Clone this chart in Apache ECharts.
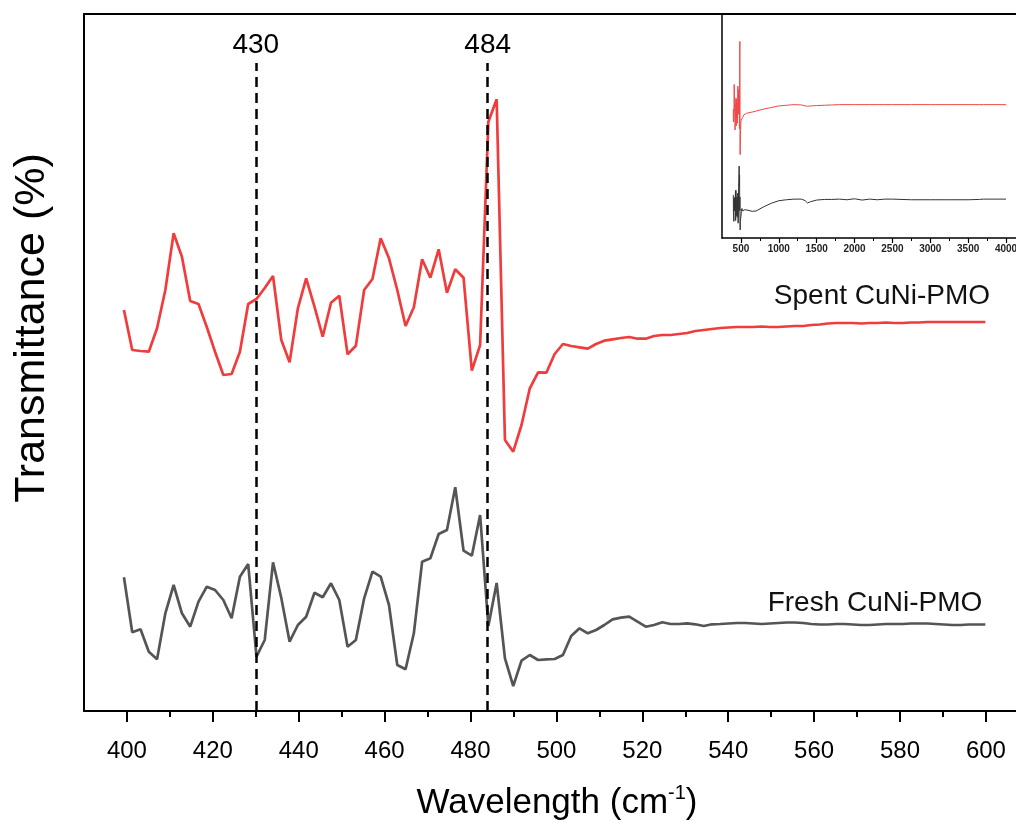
<!DOCTYPE html>
<html><head><meta charset="utf-8">
<script src="https://cdn.jsdelivr.net/npm/echarts@6/dist/echarts.min.js"></script>
<style>html,body{margin:0;padding:0;background:#fff}#c{width:1016px;height:826px}</style>
</head><body><div id="c"></div>
<script>
// Main spectrum wavenumbers (cm-1)
const wavenumbers = [399.30,401.23,403.16,405.09,407.01,408.94,410.87,412.80,414.73,416.66,
418.59,420.51,422.44,424.37,426.30,428.23,430.16,432.08,434.01,435.94,
437.87,439.80,441.73,443.66,445.58,447.51,449.44,451.37,453.30,455.23,
457.16,459.08,461.01,462.94,464.87,466.80,468.73,470.65,472.58,474.51,
476.44,478.37,480.30,482.23,484.15,486.08,488.01,489.94,491.87,493.80,
495.73,497.65,499.58,501.51,503.44,505.37,507.30,509.22,511.15,513.08,
515.01,516.94,518.87,520.80,522.72,524.65,526.58,528.51,530.44,532.37,
534.30,536.22,538.15,540.08,542.01,543.94,545.87,547.79,549.72,551.65,
553.58,555.51,557.44,559.37,561.29,563.22,565.15,567.08,569.01,570.94,
572.87,574.79,576.72,578.65,580.58,582.51,584.44,586.36,588.29,590.22,
592.15,594.08,596.01,597.94,599.86];
// Spent CuNi-PMO (offset transmittance, a.u.)
const spent = [401,361,360,359.3,382.7,421,477.7,454.3,410,407,
384,359.3,336,337,359.3,407,412,423,435,371,
348.7,402.7,432.7,404.3,374.3,408.3,415.3,356.7,365.3,421,
432,472.7,452.7,421,385,403.7,451.7,433.3,461.7,418.3,
441.7,433.3,340.3,366,589.3,611.7,271,259.3,286,322.7,
338.7,338.3,357,367,365,363.7,362.3,367,370.3,371.7,
373,374,372.3,372.3,375,376,376,377,378,380,
381,382,383,383.5,384,384,384,384.5,384,384,
384.5,385,385,386,386.5,387.5,388,388,388,387.5,
388,388,388.5,388,388,388.5,388.5,389,389,389,
389,389,389,389,389];
// Fresh CuNi-PMO (offset transmittance, a.u.)
const fresh = [133.7,78.7,81.7,59.3,51.7,97.7,126,97.7,84.3,109.3,
124.3,121,111,92.7,134.3,147,54.3,71,148.7,113,
69.3,86,94.3,118.3,113.7,127.7,111,64.3,71,112.7,
139.3,134.3,106,46,41.7,77.7,149.3,152.7,177,181,
223.7,160.3,155.3,196,85,128,52.7,25,50.3,56,
51,51.7,52,56,75,82.7,77.7,81,86,91.7,
93.3,94.3,89.3,84.3,86,88.7,87,87,87.7,86.7,
85,86.7,87,87.5,88,88,87.5,87,87.5,88,
88.5,88.5,88,87,86.5,86.5,87,87,86.5,86,
86,86.5,87,87,87,87.5,87.5,87.5,87,86.5,
86,86,86.5,86.5,86.5];
// Inset: full-range continuation beyond 600 cm-1
const insetWavenumbers = [650,700,800,900,1000,1100,1200,1300,1350,1380,1420,1500,1600,1700,1800,1900,2000,2100,2200,2300,2400,2500,2750,3000,3250,3500,3650,3700,4000];
const insetSpent = [392,395,401,406,411,413,415,414,411,410,411,412,413,414,415,415,415,415,415,415,415,415,415,415,415,415,415,415,415];
const insetFresh = [83,84,97,108,116,119,121,121,116,109,113,118,120,120,121,119,122,118,121,119,121,121,119,119,119,119,120,121,121];
// Axis ticks
const xTicks = [400,420,440,460,480,500,520,540,560,580,600];
const xMinorTicks = [410,430,450,470,490,510,530,550,570,590];
const insetTicks = [500,1000,1500,2000,2500,3000,3500,4000];
const insetMinorTicks = [750,1250,1750,2250,2750,3250,3750];
const peaks = [430,484];
const seriesNames = ['Spent CuNi-PMO','Fresh CuNi-PMO'];

const FONT = 'Liberation Sans, Arial, sans-serif';
const pair = (xs, ys) => xs.map((x, i) => [x, ys[i]]);

const chart = echarts.init(document.getElementById('c'), null, {renderer: 'canvas'});
const axisBlack = {show: true, lineStyle: {color: '#000', width: 2}};
const option = {
  animation: false,
  backgroundColor: '#fff',
  grid: [
    {left: 84, top: 14, right: 0, bottom: 115, containLabel: false, outerBoundsMode: 'none'},
    {left: 722, top: 14, right: 0, bottom: 588, containLabel: false, outerBoundsMode: 'none'}
  ],
  xAxis: [
    {type: 'value', gridIndex: 0, min: 390, max: 607, position: 'bottom',
     axisLine: axisBlack,
     axisTick: {show: true, inside: false, length: 11, lineStyle: {color: '#000', width: 2}, customValues: xTicks},
     axisLabel: {show: true, customValues: xTicks, fontSize: 24, color: '#000', fontFamily: FONT, margin: 28},
     splitLine: {show: false},
     name: 'Wavelength (cm{s|-1})', nameLocation: 'middle', nameGap: 72,
     nameTextStyle: {fontSize: 35, color: '#000', fontFamily: FONT, lineHeight: 40, padding: [0,0,0,14],
       rich: {s: {fontSize: 20, fontFamily: FONT, color: '#000', verticalAlign: 'top', lineHeight: 40}}}},
    {type: 'value', gridIndex: 0, min: 390, max: 607, position: 'bottom',
     axisLine: {show: false},
     axisTick: {show: true, length: 6, lineStyle: {color: '#000', width: 2}, customValues: xMinorTicks},
     axisLabel: {show: false}, splitLine: {show: false}},
    {type: 'value', gridIndex: 0, min: 390, max: 607, position: 'top',
     axisLine: axisBlack, axisTick: {show: false}, axisLabel: {show: false}, splitLine: {show: false}},
    {type: 'value', gridIndex: 1, min: 250, max: 4132, position: 'bottom',
     axisLine: {show: true, lineStyle: {color: '#000', width: 1.5}},
     axisTick: {show: true, length: 5, lineStyle: {color: '#000', width: 1.2}, customValues: insetTicks},
     axisLabel: {show: true, customValues: insetTicks, formatter: v => String(v), fontSize: 10, fontWeight: 'bold', color: '#222', fontFamily: FONT, margin: 6},
     splitLine: {show: false}},
    {type: 'value', gridIndex: 1, min: 250, max: 4132, position: 'bottom',
     axisLine: {show: false},
     axisTick: {show: true, length: 3, lineStyle: {color: '#000', width: 1}, customValues: insetMinorTicks},
     axisLabel: {show: false}, splitLine: {show: false}}
  ],
  yAxis: [
    {type: 'value', gridIndex: 0, min: 0, max: 697, axisLine: axisBlack,
     axisTick: {show: false}, axisLabel: {show: false}, splitLine: {show: false}},
    {type: 'value', gridIndex: 1, min: 0, max: 697,
     axisLine: {show: true, lineStyle: {color: '#000', width: 1.5}},
     axisTick: {show: false}, axisLabel: {show: false}, splitLine: {show: false}}
  ],
  series: [
    {name: seriesNames[0], type: 'line', xAxisIndex: 0, yAxisIndex: 0, data: pair(wavenumbers, spent),
     showSymbol: false, symbol: 'none', lineStyle: {color: '#f03c3c', width: 2.7}, itemStyle: {color: '#f03c3c'}},
    {name: seriesNames[1], type: 'line', xAxisIndex: 0, yAxisIndex: 0, data: pair(wavenumbers, fresh),
     showSymbol: false, symbol: 'none', lineStyle: {color: '#555555', width: 2.7}, itemStyle: {color: '#555555'},
     markLine: {silent: true, symbol: ['none', 'none'],
       lineStyle: {color: '#000', width: 2.5, type: [10, 6]},
       label: {show: true, position: 'end', formatter: '{b}', fontSize: 28, color: '#000', fontFamily: FONT, distance: 4},
       data: peaks.map(p => [{coord: [p, 0], name: String(p)}, {coord: [p, 648]}])}},
    {name: seriesNames[0] + ' (full)', type: 'line', xAxisIndex: 3, yAxisIndex: 1,
     data: pair(wavenumbers, spent).concat(pair(insetWavenumbers, insetSpent)),
     showSymbol: false, symbol: 'none', lineStyle: {color: '#f04848', width: 1}},
    {name: seriesNames[1] + ' (full)', type: 'line', xAxisIndex: 3, yAxisIndex: 1,
     data: pair(wavenumbers, fresh).concat(pair(insetWavenumbers, insetFresh)),
     showSymbol: false, symbol: 'none', lineStyle: {color: '#333333', width: 1}}
  ],
  graphic: [
    {type: 'text', x: 32, y: 328, rotation: Math.PI / 2,
     style: {text: 'Transmittance (%)', fontSize: 43, fontFamily: FONT, fill: '#000', align: 'center', verticalAlign: 'middle'}},
    {type: 'text', x: 882, y: 296,
     style: {text: seriesNames[0], fontSize: 28, fontFamily: FONT, fill: '#111', align: 'center', verticalAlign: 'middle'}},
    {type: 'text', x: 875, y: 603,
     style: {text: seriesNames[1], fontSize: 28, fontFamily: FONT, fill: '#111', align: 'center', verticalAlign: 'middle'}}
  ]
};
chart.setOption(option);
</script>
</body></html>
